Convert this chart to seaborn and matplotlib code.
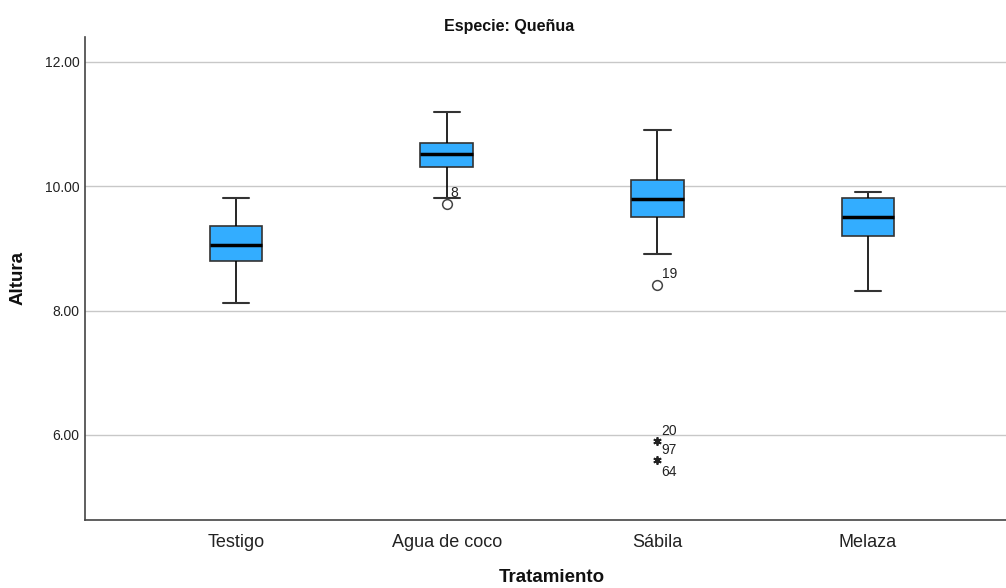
import matplotlib
matplotlib.use("Agg")
import matplotlib.pyplot as plt
import seaborn as sns
import pandas as pd

# five-number summaries
groups = ["Testigo", "Agua de coco", "Sábila", "Melaza"]
whisker_low = [8.12, 9.81, 8.91, 8.32]
q1 = [8.80, 10.31, 9.51, 9.20]
median = [9.06, 10.51, 9.80, 9.51]
q3 = [9.36, 10.70, 10.10, 9.81]
whisker_high = [9.81, 11.20, 10.91, 9.91]

# outliers (circles) and extremes (stars) with case labels
outlier_group = ["Agua de coco", "Sábila"]
outlier_value = [9.71, 8.41]
outlier_label = ["8", "19"]

extreme_group = ["Sábila", "Sábila"]
extreme_value = [5.90, 5.60]

yticks = [6, 8, 10, 12]

# one row per summary value -> quartiles come out exactly with 5 points
rows = []
for i, g in enumerate(groups):
    for v in [whisker_low[i], q1[i], median[i], q3[i], whisker_high[i]]:
        rows.append({"Tratamiento": g, "Altura": v})
df = pd.DataFrame(rows)

sns.set_style("white")
plt.rcParams["font.family"] = ["Liberation Sans", "DejaVu Sans"]

fig = plt.figure(figsize=(10.06, 5.88), dpi=100)
ax = fig.add_axes([85 / 1006, 68 / 588, 921 / 1006, 483 / 588])

sns.boxplot(data=df, x="Tratamiento", y="Altura", order=groups, ax=ax,
            whis=(0, 100), width=0.25, color="#33adff", saturation=1,
            linecolor="#333333", linewidth=1.2, showfliers=False,
            medianprops={"color": "black", "linewidth": 2.5},
            whiskerprops={"color": "black", "linewidth": 1.2},
            capprops={"color": "#333333", "linewidth": 1.5})

lab_kw = dict(textcoords="offset points", fontsize=10, color="#222222")

for g, v, lab in zip(outlier_group, outlier_value, outlier_label):
    x = groups.index(g)
    ax.plot(x, v, marker="o", ms=7, mfc="none", mec="#444444", mew=1.1, ls="none")
    ax.annotate(lab, (x, v), xytext=(3, 5), **lab_kw)

for g, v in zip(extreme_group, extreme_value):
    x = groups.index(g)
    ax.plot(x, v, marker=(6, 2, 0), ms=6, color="#222222", mew=1.3, ls="none")

xs = groups.index("Sábila")
ax.annotate("20", (xs, extreme_value[0]), xytext=(3, 4), **lab_kw)
ax.annotate("97", (xs, extreme_value[0]), xytext=(3, -9), **lab_kw)
ax.annotate("64", (xs, extreme_value[1]), xytext=(3, -12), **lab_kw)

ax.set_ylim(4.63, 12.40)
ax.set_xlim(-0.717, 3.655)
ax.set_yticks(yticks)
ax.set_yticklabels([f"{t:.2f}" for t in yticks], fontsize=10)
ax.tick_params(axis="x", labelsize=13, length=0, pad=10, colors="#222222")
ax.tick_params(axis="y", length=0, pad=4, colors="#222222")
ax.yaxis.grid(True, color="#c8c8c8", linewidth=1)
ax.set_axisbelow(True)

for s in ["top", "right"]:
    ax.spines[s].set_visible(False)
for s in ["left", "bottom"]:
    ax.spines[s].set_color("#444444")
    ax.spines[s].set_linewidth(1.2)

ax.set_xlabel("")
ax.set_ylabel("")
fig.text(552 / 1006, 1 - 578 / 588, "Tratamiento", fontsize=13.5,
         fontweight="bold", ha="center", va="center", color="#111111")
fig.text(18 / 1006, 1 - 278 / 588, "Altura", fontsize=13.5, fontweight="bold",
         rotation=90, ha="center", va="center", color="#111111")
fig.text(509 / 1006, 1 - 26 / 588, "Especie: Queñua", fontsize=11.5,
         fontweight="bold", ha="center", va="center", color="#111111")

fig.savefig("out.png", dpi=100)
